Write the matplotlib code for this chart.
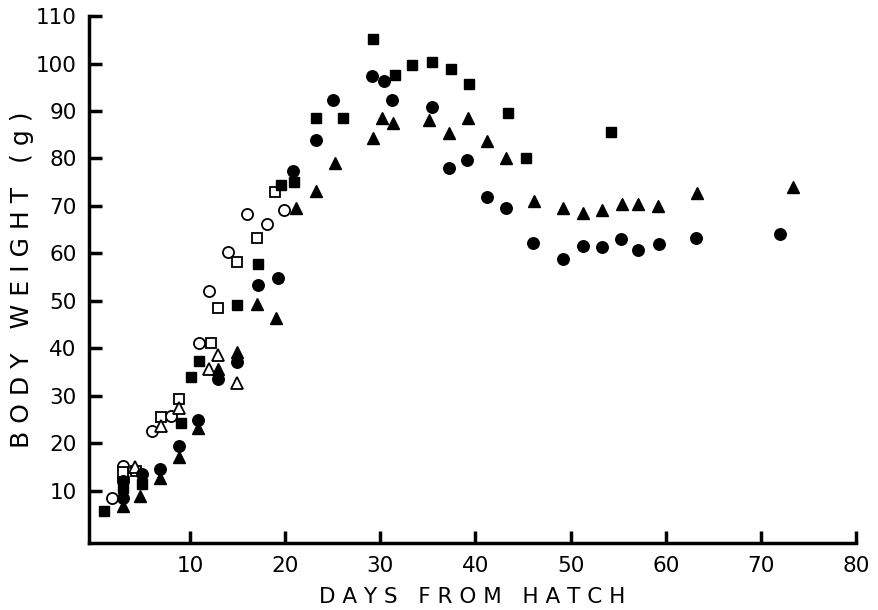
import matplotlib
matplotlib.use("Agg")
import matplotlib.pyplot as plt

# ---- data (days from hatch, body weight g) ----
fsq_x = [1.0, 3.0, 5.0, 9.1, 10.1, 11.0, 14.9, 17.2, 19.6, 20.9, 23.2, 26.1, 29.2, 31.5, 33.3, 35.4, 37.4, 39.3, 43.4, 45.3, 54.3]
fsq_y = [5.8, 10.5, 11.5, 24.3, 34.0, 37.4, 49.2, 57.8, 74.4, 75.0, 88.5, 88.5, 105.2, 97.6, 99.7, 100.3, 98.8, 95.7, 89.6, 80.1, 85.6]

fci_x = [3.0, 3.0, 5.0, 6.9, 8.9, 10.9, 12.9, 14.9, 17.2, 19.3, 20.8, 23.2, 25.0, 29.1, 30.4, 31.2, 35.4, 37.2, 39.1, 41.2, 43.2, 46.1, 49.2, 51.3, 53.3, 55.3, 57.1, 59.3, 63.2, 72.0]
fci_y = [8.5, 12.0, 13.5, 14.6, 19.4, 24.9, 33.5, 37.1, 53.4, 54.8, 77.4, 83.9, 92.3, 97.4, 96.3, 92.3, 90.8, 78.0, 79.7, 71.9, 69.6, 62.2, 58.8, 61.6, 61.4, 63.1, 60.7, 62.0, 63.3, 64.1]

ftr_x = [3.0, 4.8, 6.9, 8.9, 10.9, 13.0, 14.9, 17.0, 19.0, 21.1, 23.2, 25.2, 29.2, 30.2, 31.3, 35.1, 37.2, 39.2, 41.2, 43.2, 46.2, 49.2, 51.3, 53.3, 55.4, 57.1, 59.2, 63.3, 73.4]
ftr_y = [6.8, 9.0, 12.7, 17.2, 23.3, 35.7, 39.3, 49.4, 46.4, 69.6, 73.2, 79.1, 84.3, 88.5, 87.5, 88.1, 85.4, 88.5, 83.7, 80.1, 71.0, 69.6, 68.5, 69.2, 70.4, 70.4, 70.0, 72.7, 74.0]

oci_x = [1.8, 3.0, 3.0, 6.0, 8.0, 11.0, 12.0, 14.0, 16.0, 18.1, 19.9]
oci_y = [8.4, 15.3, 12.8, 22.6, 25.8, 41.1, 52.1, 60.3, 68.3, 66.2, 69.2]

osq_x = [3.0, 4.3, 7.0, 8.9, 12.2, 12.9, 15.0, 17.0, 18.9]
osq_y = [14.0, 14.2, 25.6, 29.4, 41.2, 48.5, 58.2, 63.3, 72.9]

otr_x = [4.2, 7.0, 8.9, 12.0, 13.0, 15.0]
otr_y = [15.0, 23.7, 27.5, 35.6, 38.5, 32.8]

x_ticks = [10, 20, 30, 40, 50, 60, 70, 80]
y_ticks = [10, 20, 30, 40, 50, 60, 70, 80, 90, 100, 110]

plt.rcParams['font.family'] = ['DejaVu Sans']

fig = plt.figure(figsize=(8.79, 6.10), dpi=100)
ax = fig.add_axes([0.1013, 0.1098, 0.8726, 0.8639])

ms = 8
ax.plot(oci_x, oci_y, 'o', ms=ms, mfc='white', mec='black', mew=1.3, ls='none')
ax.plot(osq_x, osq_y, 's', ms=ms - 0.5, mfc='white', mec='black', mew=1.3, ls='none')
ax.plot(otr_x, otr_y, '^', ms=ms, mfc='white', mec='black', mew=1.3, ls='none')
ax.plot(fsq_x, fsq_y, 's', ms=ms - 0.3, color='black', ls='none')
ax.plot(fci_x, fci_y, 'o', ms=ms + 0.3, color='black', ls='none')
ax.plot(ftr_x, ftr_y, '^', ms=ms + 0.7, color='black', ls='none')

ax.set_xlim(-0.6, 80)
ax.set_ylim(-1, 110)
ax.set_xticks(x_ticks)
ax.set_yticks(y_ticks)
ax.spines['top'].set_visible(False)
ax.spines['right'].set_visible(False)
for s in ('left', 'bottom'):
    ax.spines[s].set_linewidth(2.5)
ax.tick_params(axis='both', direction='in', length=9, width=2.5, labelsize=15.5, colors='black')
ax.tick_params(axis='x', pad=9)
ax.tick_params(axis='y', pad=9)

ax.set_xlabel('D A Y S   F R O M   H A T C H', fontsize=15.5, labelpad=8)
ax.set_ylabel('B O D Y   W E I G H T   ( g )', fontsize=18, labelpad=1)

fig.savefig('out.png', dpi=100, facecolor='white')
